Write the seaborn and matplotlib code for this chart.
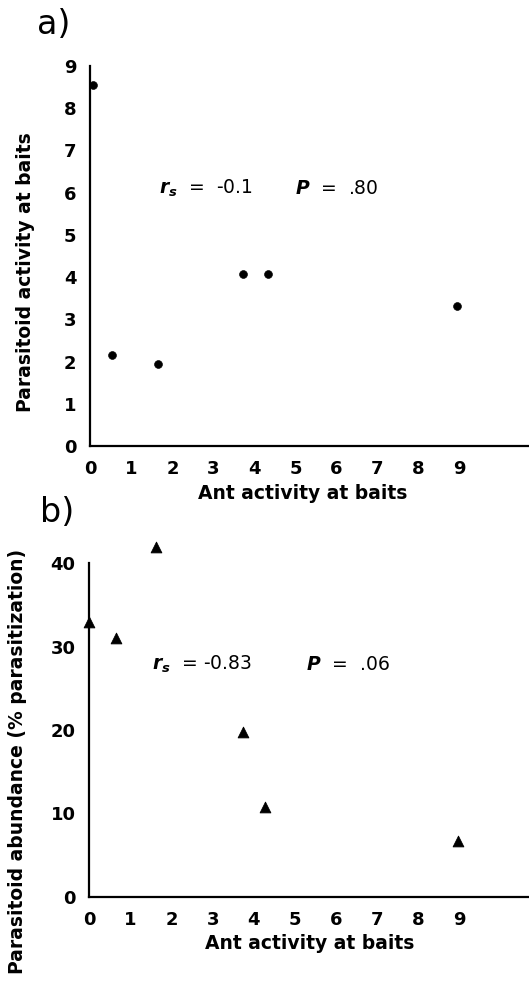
import pandas as pd
import matplotlib
matplotlib.use('Agg')
import matplotlib.pyplot as plt
import seaborn as sns

# values
ant_a = [0.06, 0.53, 1.66, 3.72, 4.34, 8.95]
parasitoid_activity = [8.56, 2.16, 1.94, 4.08, 4.08, 3.32]

ant_b = [0.0, 0.65, 1.63, 3.75, 4.27, 8.97]
parasitization = [33.0, 31.0, 41.9, 19.8, 10.8, 6.7]

x_ticks = [0, 1, 2, 3, 4, 5, 6, 7, 8, 9]
ya_ticks = [0, 1, 2, 3, 4, 5, 6, 7, 8, 9]
yb_ticks = [0, 10, 20, 30, 40]

df_a = pd.DataFrame({'ant': ant_a, 'par': parasitoid_activity})
df_b = pd.DataFrame({'ant': ant_b, 'par': parasitization})

sns.set_style('white')
plt.rcParams['font.family'] = ['DejaVu Sans']
plt.rcParams['text.color'] = 'black'
plt.rcParams['axes.labelcolor'] = 'black'
plt.rcParams['mathtext.fontset'] = 'custom'
plt.rcParams['mathtext.it'] = 'DejaVu Sans:bold:italic'
plt.rcParams['mathtext.rm'] = 'DejaVu Sans'

fig = plt.figure(figsize=(5.29, 9.82), dpi=100)
ax1 = fig.add_axes([0.171, 0.5458, 0.829, 0.387])
ax2 = fig.add_axes([0.169, 0.0866, 0.831, 0.340])

sns.scatterplot(data=df_a, x='ant', y='par', ax=ax1, color='black', marker='o',
                s=32, edgecolor='black', clip_on=False, zorder=3)
sns.scatterplot(data=df_b, x='ant', y='par', ax=ax2, color='black', marker='^',
                s=60, edgecolor='black', clip_on=False, zorder=3)

for ax, yt, ylim in [(ax1, ya_ticks, 9), (ax2, yb_ticks, 40)]:
    ax.set_xlim(0, 10.7)
    ax.set_ylim(0, ylim)
    ax.set_xticks(x_ticks)
    ax.set_yticks(yt)
    ax.spines['top'].set_visible(False)
    ax.spines['right'].set_visible(False)
    for side in ['left', 'bottom']:
        ax.spines[side].set_linewidth(1.6)
        ax.spines[side].set_color('black')
    ax.tick_params(axis='both', direction='out', length=8, width=1.5,
                   colors='black', labelsize=13, pad=2)
    for lab in ax.get_xticklabels() + ax.get_yticklabels():
        lab.set_fontweight('bold')
    ax.set_xlabel('Ant activity at baits', fontsize=13.5, fontweight='bold')

ax1.xaxis.set_label_coords(0.485, -0.10)
ax2.xaxis.set_label_coords(0.5, -0.11)

ax1.set_ylabel('Parasitoid activity at baits', fontsize=13.5, fontweight='bold')
ax1.yaxis.set_label_coords(-0.127, 0.458)
ax2.set_ylabel('Parasitoid abundance (% parasitization)', fontsize=13.5,
               fontweight='bold')
ax2.yaxis.set_label_coords(-0.142, 0.405)

# statistics annotations
ax1.text(1.67, 6.1, r'$r_s$  =  -0.1', fontsize=13.5, va='center')
ax1.text(5.0, 6.1, r'$P$  =  .80', fontsize=13.5, va='center')
ax2.text(1.52, 27.9, r'$r_s$  = -0.83', fontsize=13.5, va='center')
ax2.text(5.28, 27.9, r'$P$  =  .06', fontsize=13.5, va='center')

fig.text(0.07, 0.975, 'a)', fontsize=24, va='center')
fig.text(0.075, 0.478, 'b)', fontsize=24, va='center')

plt.savefig('out.png', dpi=100)
